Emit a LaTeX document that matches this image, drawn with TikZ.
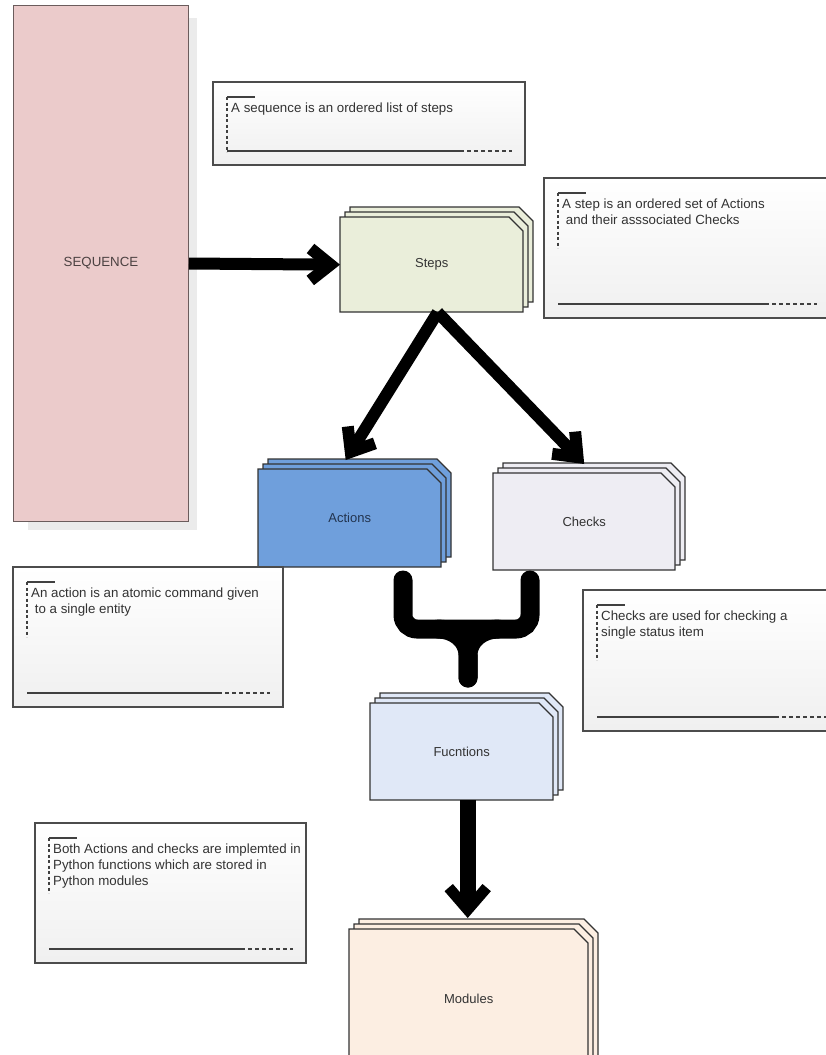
\documentclass[tikz,border=0pt]{standalone}
\usepackage{fontspec}
\setmainfont{Liberation Sans}
\usetikzlibrary{arrows.meta}
\definecolor{seqfill}{HTML}{EBCBCB}
\definecolor{seqline}{HTML}{6B5C5C}
\definecolor{stepfill}{HTML}{EAEEDA}
\definecolor{actfill}{HTML}{6F9FDC}
\definecolor{chkfill}{HTML}{EEEDF3}
\definecolor{funfill}{HTML}{E0E8F7}
\definecolor{modfill}{HTML}{FCEEE2}
\definecolor{txt}{HTML}{333333}
\definecolor{acttxt}{HTML}{22344F}
\newcommand\cardstack[8]{%
  \foreach \d in {10,5,0}{%
    \filldraw[card,fill=#6] ({#2+\d},{#3-\d}) -- ({#2+#4-14+\d},{#3-\d}) -- ({#2+#4+\d},{#3+14-\d}) -- ({#2+#4+\d},{#3+#5-\d}) -- ({#2+\d},{#3+#5-\d}) -- cycle;}
  \node[inner sep=0pt,minimum width=#4pt,minimum height=#5pt,anchor=north west] (#1) at (#2,#3) {};
  \node[labeltext,text=#8] (#1-label) at (#1.center) {#7};
}
\newcommand\notebox[6]{%
  \path[notebg] (#2,#3) rectangle (#4,#5);
  \draw[notemark] ({#2+14},{#3+15}) -- ++(28,0);
  \draw[notemark,dash pattern=on 3pt off 2.5pt] ({#2+14},{#3+15}) -- ({#2+14},{#3+70});
  \draw[notemark] ({#2+14},{#5-14}) -- ({#4-65},{#5-14});
  \draw[notemark,dash pattern=on 4pt off 3pt] ({#4-65},{#5-14}) -- ({#4-13},{#5-14});
  \node[notetext,anchor=north west] (#1) at ({#2+18},{#3+21}) {#6};
}
\begin{document}
\begin{tikzpicture}[x=1pt,y=-1pt,
  card/.style={draw=black!80,line width=1.1pt,line join=miter},
  labeltext/.style={font=\fontsize{13}{15}\selectfont,inner sep=0pt},
  notebg/.style={draw=black!70,line width=1.2pt,top color=white,bottom color=black!6},
  notemark/.style={draw=black!75,line width=1.1pt},
  notetext/.style={font=\fontsize{13.3}{16}\selectfont,text=txt,align=left,inner sep=0pt},
  fat/.style={line width=12pt,-{Straight Barb[length=20pt,width=32pt]}},
  fatter/.style={line width=16pt,-{Straight Barb[length=22pt,width=38pt,line width=11pt]}},
  brace/.style={line width=19pt,line cap=round,rounded corners=14pt}
]
\clip (0,0) rectangle (826,1055);
\fill[white] (0,0) rectangle (826,1055);

% sequence
\fill[black!8] (28,18) rectangle (197,530);
\node[draw=seqline,line width=1pt,fill=seqfill,minimum width=175pt,minimum height=516pt,anchor=north west,inner sep=0pt,text=seqline!70!black,font=\fontsize{13.3}{15}\selectfont] (seq) at (13,5) {SEQUENCE};

% notes
\notebox{n1}{213}{82}{525}{165}{A sequence is an ordered list of steps}
\notebox{n2}{544}{178}{830}{318}{A step is an ordered set of Actions\\\hspace{0.28em}and their asssociated Checks}

% stacks
\cardstack{steps}{340}{217}{183}{95}{stepfill}{Steps}{txt}
\cardstack{actions}{258}{469}{183}{98}{actfill}{Actions}{acttxt}
\cardstack{checks}{493}{473}{182}{97}{chkfill}{Checks}{txt}

\notebox{n3}{13}{567}{283}{707}{An action is an atomic command given\\\hspace{0.28em}to a single entity}
\notebox{n4}{583}{590}{840}{731}{Checks are used for checking a\\single status item}

\cardstack{fun}{370}{703}{183}{97}{funfill}{Fucntions}{txt}
\cardstack{mod}{349}{929}{239}{140}{modfill}{Modules}{txt}

\notebox{n5}{35}{823}{306}{963}{Both Actions and checks are implemted in\\Python functions which are stored in\\Python modules}

% connectors
\draw[fat] (seq.east) -- (steps.west);
\draw[fat] ([xshift=6pt]steps.south) -- ([xshift=-4pt,yshift=9pt]actions.north);
\draw[fat] ([xshift=6pt]steps.south) -- ([yshift=9pt]checks.north);

\coordinate (bl) at (403,580);
\coordinate (br) at (530,580);
\coordinate (bj) at (468,629);
\coordinate (bs) at (468,678);
\draw[brace] (bl) -- (bl |- bj) -- (br |- bj) -- (br);
\draw[line width=19pt,line cap=round] ([xshift=-30pt]bj) to[out=0,in=90] ([yshift=-26pt]bj) -- (bs);
\draw[line width=19pt,line cap=round] ([xshift=30pt]bj) to[out=180,in=90] ([yshift=-26pt]bj) -- (bs);

\draw[fatter] ([xshift=6pt]fun.south) -- ([xshift=-1pt,yshift=11pt]mod.north);
\end{tikzpicture}
\end{document}
